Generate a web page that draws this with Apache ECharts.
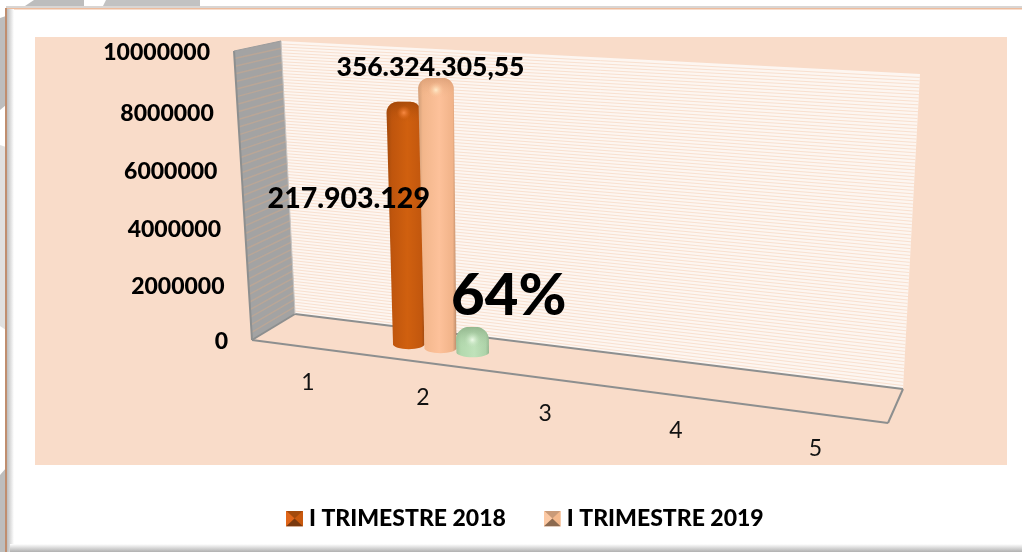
<!DOCTYPE html>
<html>
<head>
<meta charset="utf-8">
<style>
  html, body { margin: 0; padding: 0; background: #fff; }
  #chart { width: 1022px; height: 552px; }
</style>
<script src="https://cdn.jsdelivr.net/npm/echarts@6/dist/echarts.min.js"></script>
</head>
<body>
<div id="chart"></div>
<script>
const categories = ['1', '2', '3', '4', '5']
const yTicks = [0, 2000000, 4000000, 6000000, 8000000, 10000000]
const values2018 = [null, 8400000, null, null, null]
const values2019 = [null, 9250000, null, null, null]
const valuesChange = [null, 900000, null, null, null]
const seriesNames = ['I TRIMESTRE 2018', 'I TRIMESTRE 2019']
const label2018 = '217.903.129'
const label2019 = '356.324.305,55'
const labelChange = '64%'

const FONT = 'Lato'
const BOLD = 900
const GRID = { left: 252, top: 51, width: 636, height: 289 }

// corner order: bottom-left, bottom-right, top-right, top-left
const frontQuad = [[252, 340], [888, 423], [905, 85], [234, 51]]
const backQuad = [[295, 314], [903, 389], [920, 74], [281, 41]]
const midQuad = frontQuad.map((p, i) => [(p[0] + backQuad[i][0]) / 2, (p[1] + backQuad[i][1]) / 2])

// unit square -> quad, gives the chart its perspective
const makeProjection = (q) => {
  const [[x0, y0], [x1, y1], [x2, y2], [x3, y3]] = q
  const dx1 = x1 - x2, dx2 = x3 - x2, dx3 = x0 - x1 + x2 - x3
  const dy1 = y1 - y2, dy2 = y3 - y2, dy3 = y0 - y1 + y2 - y3
  const den = dx1 * dy2 - dx2 * dy1
  const g = (dx3 * dy2 - dx2 * dy3) / den
  const h = (dx1 * dy3 - dx3 * dy1) / den
  const a = x1 - x0 + g * x1, b = x3 - x0 + h * x3
  const d = y1 - y0 + g * y1, e = y3 - y0 + h * y3
  return (u, v) => {
    const w = g * u + h * v + 1
    return [(a * u + b * v + x0) / w, (d * u + e * v + y0) / w]
  }
}
const projectFront = makeProjection(frontQuad)
const projectMid = makeProjection(midQuad)

const toUnit = (pt) => [
  (pt[0] - GRID.left) / GRID.width,
  (GRID.top + GRID.height - pt[1]) / GRID.height
]

const hLinear = (stops) => ({
  type: 'linear', x: 0, y: 0, x2: 1, y2: 0,
  colorStops: stops.map((s) => ({ offset: s[0], color: s[1] }))
})
const vLinear = (top, bottom) => ({
  type: 'linear', x: 0, y: 0, x2: 0, y2: 1,
  colorStops: [{ offset: 0, color: top }, { offset: 1, color: bottom }]
})

// one rounded cylinder, from the axis position of its value
const renderBar = (slot, look, labelDef) => (params, api) => {
  const val = api.value(1)
  if (val === null || val === undefined || isNaN(val)) return
  const idx = api.value(0)
  const barW = api.size([1, 0])[0] * 0.275
  const base = api.coord([idx, 0])
  const top = api.coord([idx, val])
  const uv = (x, y) => {
    const t = toUnit([x, y])
    return projectMid(t[0], t[1])
  }
  const off = slot * barW
  const bl = uv(base[0] + off - barW / 2, base[1])
  const br = uv(base[0] + off + barW / 2, base[1])
  const tl = uv(top[0] + off - barW / 2, top[1])
  const tr = uv(top[0] + off + barW / 2, top[1])

  const cx = (bl[0] + br[0]) / 2, cy = (bl[1] + br[1]) / 2
  const hw = (br[0] - bl[0]) / 2
  // tops and bases are kept level, the lean is softer than the plane's
  const topY = (tl[1] + tr[1]) / 2
  const topCx = cx + ((tl[0] + tr[0]) / 2 - cx) * 0.6
  const topHw = hw * (1 + 0.12 * (cy - topY) / GRID.height)
  const rx = topHw * 2 * look.round
  const ry = look.ry

  const dome = []
  const n = 10
  for (let i = 0; i <= n; i++) {
    const a = Math.PI / 2 * i / n
    dome.push([topCx - topHw + rx - rx * Math.cos(a), topY + ry - ry * Math.sin(a)])
  }
  for (let i = 0; i <= n; i++) {
    const a = Math.PI / 2 * i / n
    dome.push([topCx + topHw - rx + rx * Math.sin(a), topY + ry - ry * Math.cos(a)])
  }
  const bottom = []
  for (let i = 0; i <= 16; i++) {
    const a = Math.PI * i / 16
    bottom.push([cx + hw * Math.cos(a), cy + 5 * Math.sin(a)])
  }
  const capY = topY + ry + look.cap
  const children = [
    { type: 'polygon', z2: slot + 2, shape: { points: dome.concat(bottom) }, style: { fill: hLinear(look.body) } },
    {
      type: 'polygon', z2: slot + 2,
      shape: { points: dome.concat([[topCx + topHw, capY], [topCx - topHw, capY]]) },
      style: { fill: vLinear(look.capTop, look.capEnd) }
    },
    {
      type: 'ellipse', z2: slot + 2,
      shape: { cx: topCx, cy: topY + look.glowY, rx: topHw * 0.62, ry: look.glowR },
      style: {
        fill: {
          type: 'radial', x: 0.5, y: 0.5, r: 0.5,
          colorStops: [{ offset: 0, color: look.glow }, { offset: 1, color: look.glowEnd }]
        }
      }
    }
  ]
  if (labelDef) {
    children.push({
      type: 'text', z2: 100, x: cx + labelDef.dx, y: cy + labelDef.dy,
      style: {
        text: labelDef.text, fill: '#000', align: 'center', verticalAlign: 'middle',
        fontFamily: FONT, fontWeight: BOLD, fontSize: labelDef.size
      }
    })
  }
  return { type: 'group', children }
}

const look2018 = {
  body: [[0, '#a34a0c'], [0.14, '#bf550d'], [0.55, '#d0600f'], [0.92, '#c2570e'], [1, '#a04a10']],
  round: 0.32, ry: 11, cap: 10,
  capTop: 'rgba(140,60,5,0.55)', capEnd: 'rgba(190,85,15,0)',
  glow: 'rgba(250,140,70,0.95)', glowEnd: 'rgba(230,110,30,0)', glowY: 11, glowR: 7
}
const look2019 = {
  body: [[0, '#cf9c76'], [0.12, '#f2b68b'], [0.55, '#fdc19a'], [0.9, '#f1b389'], [1, '#bc8c6a']],
  round: 0.3, ry: 11, cap: 9,
  capTop: 'rgba(205,145,105,0.6)', capEnd: 'rgba(245,185,140,0)',
  glow: 'rgba(255,238,205,0.95)', glowEnd: 'rgba(253,195,150,0)', glowY: 12, glowR: 8
}
const lookChange = {
  body: [[0, '#9dc298'], [0.15, '#b3d9ae'], [0.55, '#bfe2ba'], [0.9, '#aed3a9'], [1, '#94b690']],
  round: 0.4, ry: 13, cap: 8,
  capTop: 'rgba(130,165,125,0.7)', capEnd: 'rgba(180,215,175,0)',
  glow: 'rgba(240,252,235,0.95)', glowEnd: 'rgba(190,225,185,0)', glowY: 13, glowR: 8
}

const renderCategoryLabel = (params, api) => {
  const pt = api.coord([api.value(0), 0])
  const t = toUnit(pt)
  const p = projectFront(t[0], t[1])
  return {
    type: 'text', x: p[0] + 1, y: p[1] + 35,
    style: {
      text: categories[api.value(0)], fill: '#111', align: 'center', verticalAlign: 'middle',
      fontFamily: FONT, fontSize: 23
    }
  }
}

const renderYLabel = (params, api) => {
  const val = api.value(1)
  const pt = api.coord([0, val])
  const p = projectFront(0, toUnit(pt)[1])
  return {
    type: 'text', x: p[0] - 24, y: p[1] + 2,
    style: {
      text: String(val), fill: '#000', align: 'right', verticalAlign: 'middle',
      fontFamily: FONT, fontWeight: BOLD, fontSize: 23
    }
  }
}

// hatch lines across a wall, between its left and right edges
const hatch = (q, count, color, width) => {
  const lines = []
  for (let i = 1; i < count; i++) {
    const t = i / count
    lines.push({
      type: 'line',
      shape: {
        x1: q[0][0] + (q[3][0] - q[0][0]) * t,
        y1: q[0][1] + (q[3][1] - q[0][1]) * t,
        x2: q[1][0] + (q[2][0] - q[1][0]) * t,
        y2: q[1][1] + (q[2][1] - q[1][1]) * t
      },
      style: { stroke: color, lineWidth: width }
    })
  }
  return lines
}

const sideQuad = [frontQuad[0], backQuad[0], backQuad[3], frontQuad[3]]
const wallLine = { stroke: '#8d8f8f', lineWidth: 2 }
const seg = (a, b) => ({
  type: 'line', shape: { x1: a[0], y1: a[1], x2: b[0], y2: b[1] }, style: wallLine
})
const greyPatch = (points, fill) => ({ type: 'polygon', shape: { points }, style: { fill } })

const decoration = [
  // page behind the frame
  greyPatch([[22, 8], [34, 0], [84, 0], [84, 8]], '#bdbdbd'),
  greyPatch([[102, 8], [106, 0], [200, 0], [200, 8]], '#c2c2c2'),
  greyPatch([[0, 18], [6, 16], [6, 105], [0, 110]], '#bdbdbd'),
  greyPatch([[0, 145], [6, 147], [6, 330], [0, 326]], '#e0e0e0'),
  greyPatch([[0, 475], [6, 468], [6, 552], [0, 552]], '#bdbdbd'),
  // frame
  { type: 'rect', shape: { x: 6, y: 6, width: 1016, height: 2 }, style: { fill: '#d9d6d4' } },
  { type: 'rect', shape: { x: 6, y: 8, width: 1016, height: 1.5 }, style: { fill: '#edbb9c' } },
  { type: 'rect', shape: { x: 5, y: 8, width: 2, height: 544 }, style: { fill: '#c08e6f' } },
  {
    type: 'rect', shape: { x: 7, y: 9, width: 7, height: 543 },
    style: { fill: hLinear([[0, '#bdbdbd'], [1, '#ffffff']]) }
  },
  {
    type: 'rect', shape: { x: 10, y: 544, width: 1012, height: 8 },
    style: { fill: vLinear('#ffffff', '#b0b0b0') }
  },
  // chart area
  { type: 'rect', shape: { x: 35, y: 37, width: 972, height: 428 }, style: { fill: '#f9dcc9' } },
  // back wall
  { type: 'polygon', shape: { points: backQuad }, style: { fill: '#fdf6f1' } },
  ...hatch(backQuad, 92, '#f9e0cf', 1),
  // side wall
  { type: 'polygon', shape: { points: sideQuad }, style: { fill: '#a3a3a3' } },
  ...hatch(sideQuad, 38, '#b9a697', 1.5),
  // floor edges
  seg(frontQuad[3], frontQuad[0]),
  seg(frontQuad[0], frontQuad[1]),
  seg(frontQuad[1], backQuad[1]),
  seg(backQuad[1], backQuad[0]),
  seg(backQuad[0], frontQuad[0]),
  { type: 'line', shape: { x1: 281, y1: 41, x2: 295, y2: 314 }, style: { stroke: '#c9c5c2', lineWidth: 1 } },
  { type: 'line', shape: { x1: 234, y1: 51, x2: 281, y2: 41 }, style: { stroke: '#9c9c9c', lineWidth: 1 } }
]

const pyramidIcon = (c, light, dark, mid) =>
  'image://data:image/svg+xml,' + encodeURIComponent(
    '<svg xmlns="http://www.w3.org/2000/svg" width="17" height="16">' +
    `<rect width="17" height="16" fill="${c}"/>` +
    `<polygon points="0,0 17,0 8.5,8" fill="${mid}"/>` +
    `<polygon points="0,0 8.5,8 0,16" fill="${light}"/>` +
    `<polygon points="0,16 8.5,8 17,16" fill="${dark}"/>` +
    '</svg>')

const toPairs = (arr) => arr.map((v, i) => [i, v])

const chart = echarts.init(document.getElementById('chart'))
chart.setOption({
  animation: false,
  backgroundColor: '#fff',
  grid: GRID,
  graphic: { elements: decoration },
  legend: {
    left: 286, top: 507, padding: 0,
    itemWidth: 17, itemHeight: 16, itemGap: 38,
    selectedMode: false,
    data: [
      { name: seriesNames[0], icon: pyramidIcon('#c9590e', '#e0661a', '#7a3a10', '#a34a0c') },
      { name: seriesNames[1], icon: pyramidIcon('#f3b88c', '#fcc9a4', '#8c6a50', '#c99a78') }
    ],
    textStyle: { fontFamily: FONT, fontWeight: BOLD, fontSize: 23, color: '#000', padding: [0, 0, 0, 1] }
  },
  xAxis: { type: 'category', data: categories, show: false },
  yAxis: { type: 'value', min: 0, max: 10000000, interval: 2000000, show: false },
  series: [
    {
      name: 'axisX', type: 'custom', silent: true, clip: false, z: 3,
      data: toPairs(categories.map(() => 0)), renderItem: renderCategoryLabel
    },
    {
      name: 'axisY', type: 'custom', silent: true, clip: false, z: 3,
      data: yTicks.map((t) => [0, t]), renderItem: renderYLabel
    },
    {
      name: seriesNames[0], type: 'custom', clip: false, z: 4, itemStyle: { color: '#c9590e' },
      data: toPairs(values2018),
      renderItem: renderBar(-1, look2018, { text: label2018, dx: -60, dy: -145, size: 28.5 })
    },
    {
      name: seriesNames[1], type: 'custom', clip: false, z: 4, itemStyle: { color: '#f3b88c' },
      data: toPairs(values2019),
      renderItem: renderBar(0, look2019, { text: label2019, dx: -10, dy: -281, size: 26.5 })
    },
    {
      name: 'change', type: 'custom', clip: false, z: 4, itemStyle: { color: '#bfe2ba' },
      data: toPairs(valuesChange),
      renderItem: renderBar(1, lookChange, { text: labelChange, dx: 36, dy: -56, size: 58 })
    }
  ]
})
window.addEventListener('resize', () => chart.resize())
</script>
</body>
</html>
